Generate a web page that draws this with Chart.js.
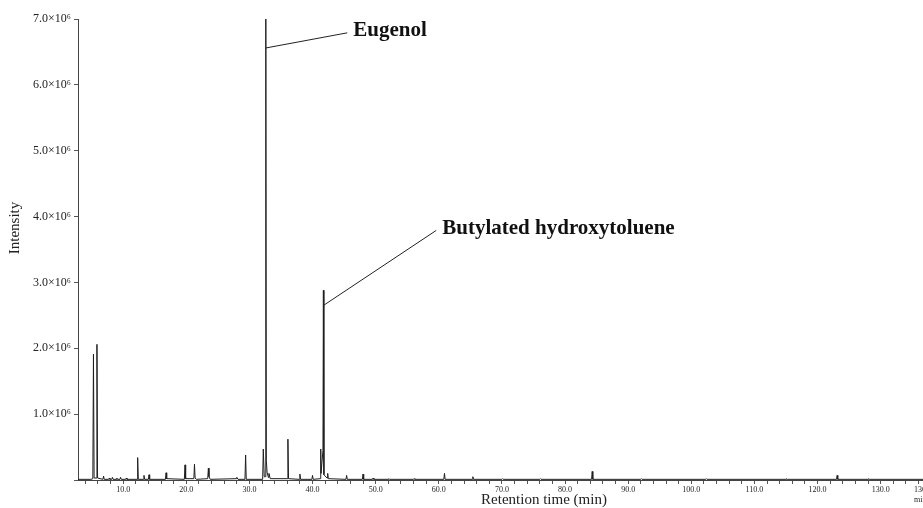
<!DOCTYPE html>
<html><head><meta charset="utf-8">
<script src="https://cdn.jsdelivr.net/npm/chart.js@4.4.1/dist/chart.umd.min.js"></script>
<style>
html,body{margin:0;padding:0;background:#fff;overflow:hidden;width:923px;height:508px}
#wrap{position:absolute;left:0;top:0;width:960px;height:508px}
</style>
</head><body>
<div id="wrap"><canvas id="c" width="960" height="508"></canvas></div>
<script>
// Retention time (min) of each recorded point of the chromatogram
const retentionTime = [
  2.85, 4.9, 5.2, 5.3, 5.4, 5.75, 5.85, 5.95, 6.8, 6.9, 7.0, 7.7, 7.8, 7.9,
  8.2, 8.3, 8.4, 8.9, 9.0, 9.1, 9.5, 9.6, 9.7, 10.4, 10.5, 10.6,
  12.2, 12.3, 12.4, 13.2, 13.3, 13.4, 14.0, 14.1, 14.2, 16.7, 16.8, 16.9,
  19.7, 19.8, 19.9, 21.2, 21.3, 21.4, 21.6, 23.4, 23.5, 23.6, 23.8,
  27.9, 28.0, 28.2, 29.3, 29.4, 29.5, 32.1, 32.2, 32.35, 32.55, 32.6, 32.68,
  32.8, 33.0, 33.1, 33.3, 36.0, 36.1, 36.2, 37.9, 38.0, 38.1, 39.9, 40.0, 40.1,
  41.25, 41.3, 41.35, 41.65, 41.72, 41.8, 42.3, 42.4, 42.5,
  45.3, 45.4, 45.5, 47.9, 48.0, 48.1, 49.5, 49.6, 49.7, 52.0, 52.1, 52.2,
  56.0, 56.1, 56.2, 60.8, 60.9, 61.0, 65.3, 65.4, 65.5, 70.0, 70.1, 70.2,
  76.0, 76.1, 76.2, 84.2, 84.3, 84.4, 92.0, 92.1, 92.2, 102.3, 102.4, 102.5,
  115.0, 115.1, 115.2, 123.0, 123.1, 123.2, 128.0, 128.1, 128.2, 136.7
];
// Intensity at each point, in units of 10^6 counts
const intensity = [
  0.01, 0.01, 0.02, 1.91, 0.03, 0.03, 2.06, 0.03, 0.01, 0.06, 0.01, 0.01, 0.03, 0.01,
  0.01, 0.04, 0.01, 0.01, 0.03, 0.01, 0.01, 0.04, 0.01, 0.01, 0.03, 0.01,
  0.01, 0.34, 0.01, 0.01, 0.07, 0.01, 0.01, 0.08, 0.01, 0.01, 0.11, 0.02,
  0.01, 0.23, 0.02, 0.02, 0.24, 0.03, 0.01, 0.02, 0.18, 0.05, 0.01,
  0.02, 0.04, 0.01, 0.01, 0.38, 0.01, 0.01, 0.47, 0.05, 0.05, 7.0, 0.3,
  0.12, 0.04, 0.1, 0.02, 0.02, 0.62, 0.02, 0.01, 0.09, 0.01, 0.01, 0.07, 0.01,
  0.02, 0.47, 0.1, 0.45, 2.88, 0.08, 0.03, 0.1, 0.02,
  0.01, 0.07, 0.01, 0.01, 0.09, 0.01, 0.01, 0.03, 0.01, 0.01, 0.02, 0.01,
  0.01, 0.02, 0.01, 0.01, 0.1, 0.01, 0.01, 0.05, 0.01, 0.01, 0.02, 0.01,
  0.01, 0.02, 0.01, 0.01, 0.13, 0.01, 0.01, 0.02, 0.01, 0.01, 0.02, 0.01,
  0.01, 0.02, 0.01, 0.01, 0.07, 0.01, 0.01, 0.02, 0.01, 0.01
];
// Axis tick values
const yTickValues = [0, 1, 2, 3, 4, 5, 6, 7];
const xMinorTickStep = 2;
const xLabelStep = 10;
const xAxisMin = 2.85;
const xAxisMax = 136.7;
// Labelled compounds
const peakNames = ['Eugenol', 'Butylated hydroxytoluene'];
const peakTimes = [32.6, 41.72];

const SERIF = '"Liberation Serif", "Times New Roman", "DejaVu Serif", serif';

const annotationPlugin = {
  id: 'annot',
  afterDraw(chart, args, opts) {
    const ctx = chart.ctx;
    const xs = chart.scales.x, ys = chart.scales.y;
    ctx.save();
    // leader lines and compound names
    peakNames.forEach((name, i) => {
      const a = opts.anchors[i];
      const x0 = xs.getPixelForValue(peakTimes[i]);
      const y0 = ys.getPixelForValue(a.joinY);
      const x1 = xs.getPixelForValue(a.lineEndX);
      const y1 = ys.getPixelForValue(a.lineEndY);
      ctx.strokeStyle = '#222';
      ctx.lineWidth = 1;
      ctx.beginPath(); ctx.moveTo(x0, y0); ctx.lineTo(x1, y1); ctx.stroke();
      ctx.fillStyle = '#111';
      ctx.font = 'bold 21px ' + SERIF;
      ctx.textAlign = 'left'; ctx.textBaseline = 'middle';
      ctx.fillText(name, x1 + 6, y1 - 2);
    });
    // axis titles
    ctx.fillStyle = '#222';
    ctx.font = '15px ' + SERIF;
    ctx.textAlign = 'center'; ctx.textBaseline = 'middle';
    ctx.fillText('Retention time (min)', 544, 500);
    ctx.save();
    ctx.translate(15, 228);
    ctx.rotate(-Math.PI / 2);
    ctx.fillText('Intensity', 0, 0);
    ctx.restore();
    ctx.font = '8px ' + SERIF;
    ctx.textAlign = 'left';
    ctx.fillText('min', 914, 500);
    ctx.restore();
  }
};

new Chart(document.getElementById('c').getContext('2d'), {
  type: 'line',
  data: {
    datasets: [{
      data: retentionTime.map((t, i) => ({ x: t, y: intensity[i] })),
      borderColor: '#1e1e1e',
      borderWidth: 1,
      pointRadius: 0,
      tension: 0,
      fill: false
    }]
  },
  options: {
    responsive: false,
    animation: false,
    devicePixelRatio: 1,
    layout: { padding: { top: 19, right: 37, left: 0, bottom: 0 } },
    plugins: {
      legend: { display: false },
      tooltip: { enabled: false },
      annot: {
        anchors: [
          { joinY: 6.56, lineEndX: 45.5, lineEndY: 6.79 },
          { joinY: 2.65, lineEndX: 59.6, lineEndY: 3.79 }
        ]
      }
    },
    scales: {
      x: {
        type: 'linear',
        min: xAxisMin,
        max: xAxisMax,
        afterFit(s) { s.height = 28; },
        afterBuildTicks(s) {
          const t = [];
          for (let v = Math.ceil(xAxisMin / xMinorTickStep) * xMinorTickStep; v < xAxisMax; v += xMinorTickStep) t.push({ value: v });
          t.push({ value: xAxisMax });
          s.ticks = t;
        },
        ticks: {
          autoSkip: false, maxRotation: 0, minRotation: 0, padding: 1,
          font: { family: SERIF, size: 8 }, color: '#222',
          callback: (v) => (v % xLabelStep === 0 || v === xAxisMax) ? v.toFixed(1) : ''
        },
        grid: { drawOnChartArea: false, drawTicks: true, tickLength: 4, color: '#555' },
        border: { display: true, color: '#444', width: 1 }
      },
      y: {
        min: 0, max: 7,
        afterFit(s) { s.width = 78; },
        afterBuildTicks(s) { s.ticks = yTickValues.map(v => ({ value: v })); },
        ticks: {
          padding: 3, font: { family: SERIF, size: 12 }, color: '#222',
          callback: (v) => v === 0 ? '' : v.toFixed(1) + '×10⁶'
        },
        grid: { drawOnChartArea: false, drawTicks: true, tickLength: 4, color: '#555' },
        border: { display: true, color: '#444', width: 1 }
      }
    }
  },
  plugins: [annotationPlugin]
});
</script>
</body></html>
